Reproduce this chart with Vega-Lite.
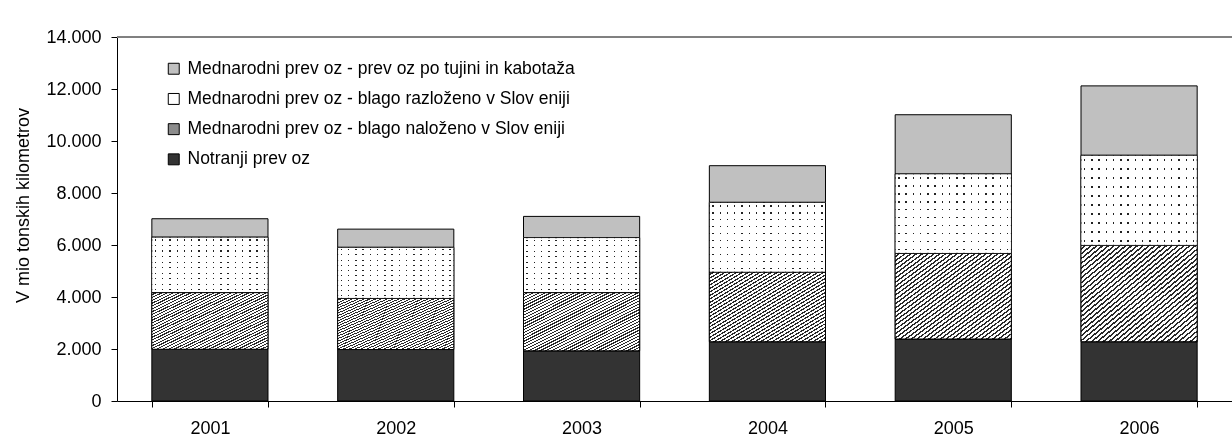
{
  "$schema": "https://vega.github.io/schema/vega-lite/v6.json",
  "autosize": {"type": "none"},
  "padding": {"left": 117, "top": 37, "right": 0, "bottom": 36},
  "width": 1115,
  "height": 364,
  "config": {
    "locale": {"number": {"decimal": ",", "thousands": ".", "grouping": [3], "currency": ["", " €"]}},
    "view": {"stroke": null},
    "font": "Liberation Sans"
  },
  "data": {
    "values": [
      {"year": "2001", "series": "Notranji prev oz", "rank": 1, "value": 1990},
      {"year": "2001", "series": "Mednarodni prev oz - blago naloženo v Slov eniji", "rank": 2, "value": 2180},
      {"year": "2001", "series": "Mednarodni prev oz - blago razloženo v Slov eniji", "rank": 3, "value": 2130},
      {"year": "2001", "series": "Mednarodni prev oz - prev oz po tujini in kabotaža", "rank": 4, "value": 710},
      {"year": "2002", "series": "Notranji prev oz", "rank": 1, "value": 1980},
      {"year": "2002", "series": "Mednarodni prev oz - blago naloženo v Slov eniji", "rank": 2, "value": 1970},
      {"year": "2002", "series": "Mednarodni prev oz - blago razloženo v Slov eniji", "rank": 3, "value": 1960},
      {"year": "2002", "series": "Mednarodni prev oz - prev oz po tujini in kabotaža", "rank": 4, "value": 700},
      {"year": "2003", "series": "Notranji prev oz", "rank": 1, "value": 1930},
      {"year": "2003", "series": "Mednarodni prev oz - blago naloženo v Slov eniji", "rank": 2, "value": 2240},
      {"year": "2003", "series": "Mednarodni prev oz - blago razloženo v Slov eniji", "rank": 3, "value": 2110},
      {"year": "2003", "series": "Mednarodni prev oz - prev oz po tujini in kabotaža", "rank": 4, "value": 820},
      {"year": "2004", "series": "Notranji prev oz", "rank": 1, "value": 2280},
      {"year": "2004", "series": "Mednarodni prev oz - blago naloženo v Slov eniji", "rank": 2, "value": 2680},
      {"year": "2004", "series": "Mednarodni prev oz - blago razloženo v Slov eniji", "rank": 3, "value": 2680},
      {"year": "2004", "series": "Mednarodni prev oz - prev oz po tujini in kabotaža", "rank": 4, "value": 1410},
      {"year": "2005", "series": "Notranji prev oz", "rank": 1, "value": 2385},
      {"year": "2005", "series": "Mednarodni prev oz - blago naloženo v Slov eniji", "rank": 2, "value": 3295},
      {"year": "2005", "series": "Mednarodni prev oz - blago razloženo v Slov eniji", "rank": 3, "value": 3050},
      {"year": "2005", "series": "Mednarodni prev oz - prev oz po tujini in kabotaža", "rank": 4, "value": 2280},
      {"year": "2006", "series": "Notranji prev oz", "rank": 1, "value": 2280},
      {"year": "2006", "series": "Mednarodni prev oz - blago naloženo v Slov eniji", "rank": 2, "value": 3710},
      {"year": "2006", "series": "Mednarodni prev oz - blago razloženo v Slov eniji", "rank": 3, "value": 3460},
      {"year": "2006", "series": "Mednarodni prev oz - prev oz po tujini in kabotaža", "rank": 4, "value": 2670}
    ]
  },
  "transform": [
    {"stack": "value", "groupby": ["year"], "sort": [{"field": "rank", "order": "ascending"}], "as": ["v0", "v1"]}
  ],
  "layer": [
    {
      "mark": {"type": "bar", "stroke": "#000000", "strokeWidth": 1},
      "encoding": {
        "x": {
          "field": "year", "type": "ordinal",
          "scale": {"paddingInner": 0.375, "paddingOuter": 0.1875},
          "axis": {"title": null, "labelAngle": 0, "tickBand": "extent", "domainColor": "#000000", "tickColor": "#000000", "tickSize": 6, "labelFontSize": 18, "labelColor": "#000000", "labelPadding": 12, "grid": false}
        },
        "y": {
          "field": "v0", "type": "quantitative",
          "scale": {"domain": [0, 14000]},
          "axis": {"title": "V mio tonskih kilometrov", "values": [0, 2000, 4000, 6000, 8000, 10000, 12000, 14000], "format": ",.0f", "labelFontSize": 18, "labelColor": "#000000", "titleFontSize": 18, "titleFontWeight": "normal", "titleColor": "#000000", "tickSize": 6, "labelPadding": 10, "domainColor": "#000000", "tickColor": "#000000", "grid": false, "titleX": -94, "titleY": 168, "titleBaseline": "middle", "titleAngle": 270}
        },
        "y2": {"field": "v1"},
        "color": {
          "field": "series", "type": "nominal",
          "scale": {
            "domain": ["Mednarodni prev oz - prev oz po tujini in kabotaža", "Mednarodni prev oz - blago razloženo v Slov eniji", "Mednarodni prev oz - blago naloženo v Slov eniji", "Notranji prev oz"],
            "range": ["#c0c0c0", "#ffffff", "#8c8c8c", "#333333"]
          },
          "legend": {"title": null, "orient": "none", "legendX": 48, "legendY": 23, "symbolType": "square", "symbolSize": 120, "symbolStrokeColor": "#000000", "symbolStrokeWidth": 1, "symbolOpacity": 1, "labelFontSize": 17.5, "labelColor": "#000000", "labelLimit": 700, "rowPadding": 11.2, "labelOffset": 5}
        }
      }
    },
    {
      "transform": [{"filter": {"field": "series", "equal": "Mednarodni prev oz - blago naloženo v Slov eniji"}}],
      "mark": {
        "type": "bar", "stroke": "#000000", "strokeWidth": 1,
        "fill": {
          "gradient": "linear", "x1": 0, "y1": 0, "x2": 1, "y2": 1,
          "stops": [
            {"offset": 0, "color": "#ffffff"}, {"offset": 0.015, "color": "#ffffff"}, {"offset": 0.015, "color": "#2a2a2a"}, {"offset": 0.025, "color": "#2a2a2a"},
            {"offset": 0.025, "color": "#ffffff"}, {"offset": 0.04, "color": "#ffffff"}, {"offset": 0.04, "color": "#2a2a2a"}, {"offset": 0.05, "color": "#2a2a2a"},
            {"offset": 0.05, "color": "#ffffff"}, {"offset": 0.065, "color": "#ffffff"}, {"offset": 0.065, "color": "#2a2a2a"}, {"offset": 0.075, "color": "#2a2a2a"},
            {"offset": 0.075, "color": "#ffffff"}, {"offset": 0.09, "color": "#ffffff"}, {"offset": 0.09, "color": "#2a2a2a"}, {"offset": 0.1, "color": "#2a2a2a"},
            {"offset": 0.1, "color": "#ffffff"}, {"offset": 0.115, "color": "#ffffff"}, {"offset": 0.115, "color": "#2a2a2a"}, {"offset": 0.125, "color": "#2a2a2a"},
            {"offset": 0.125, "color": "#ffffff"}, {"offset": 0.14, "color": "#ffffff"}, {"offset": 0.14, "color": "#2a2a2a"}, {"offset": 0.15, "color": "#2a2a2a"},
            {"offset": 0.15, "color": "#ffffff"}, {"offset": 0.165, "color": "#ffffff"}, {"offset": 0.165, "color": "#2a2a2a"}, {"offset": 0.175, "color": "#2a2a2a"},
            {"offset": 0.175, "color": "#ffffff"}, {"offset": 0.19, "color": "#ffffff"}, {"offset": 0.19, "color": "#2a2a2a"}, {"offset": 0.2, "color": "#2a2a2a"},
            {"offset": 0.2, "color": "#ffffff"}, {"offset": 0.215, "color": "#ffffff"}, {"offset": 0.215, "color": "#2a2a2a"}, {"offset": 0.225, "color": "#2a2a2a"},
            {"offset": 0.225, "color": "#ffffff"}, {"offset": 0.24, "color": "#ffffff"}, {"offset": 0.24, "color": "#2a2a2a"}, {"offset": 0.25, "color": "#2a2a2a"},
            {"offset": 0.25, "color": "#ffffff"}, {"offset": 0.265, "color": "#ffffff"}, {"offset": 0.265, "color": "#2a2a2a"}, {"offset": 0.275, "color": "#2a2a2a"},
            {"offset": 0.275, "color": "#ffffff"}, {"offset": 0.29, "color": "#ffffff"}, {"offset": 0.29, "color": "#2a2a2a"}, {"offset": 0.3, "color": "#2a2a2a"},
            {"offset": 0.3, "color": "#ffffff"}, {"offset": 0.315, "color": "#ffffff"}, {"offset": 0.315, "color": "#2a2a2a"}, {"offset": 0.325, "color": "#2a2a2a"},
            {"offset": 0.325, "color": "#ffffff"}, {"offset": 0.34, "color": "#ffffff"}, {"offset": 0.34, "color": "#2a2a2a"}, {"offset": 0.35, "color": "#2a2a2a"},
            {"offset": 0.35, "color": "#ffffff"}, {"offset": 0.365, "color": "#ffffff"}, {"offset": 0.365, "color": "#2a2a2a"}, {"offset": 0.375, "color": "#2a2a2a"},
            {"offset": 0.375, "color": "#ffffff"}, {"offset": 0.39, "color": "#ffffff"}, {"offset": 0.39, "color": "#2a2a2a"}, {"offset": 0.4, "color": "#2a2a2a"},
            {"offset": 0.4, "color": "#ffffff"}, {"offset": 0.415, "color": "#ffffff"}, {"offset": 0.415, "color": "#2a2a2a"}, {"offset": 0.425, "color": "#2a2a2a"},
            {"offset": 0.425, "color": "#ffffff"}, {"offset": 0.44, "color": "#ffffff"}, {"offset": 0.44, "color": "#2a2a2a"}, {"offset": 0.45, "color": "#2a2a2a"},
            {"offset": 0.45, "color": "#ffffff"}, {"offset": 0.465, "color": "#ffffff"}, {"offset": 0.465, "color": "#2a2a2a"}, {"offset": 0.475, "color": "#2a2a2a"},
            {"offset": 0.475, "color": "#ffffff"}, {"offset": 0.49, "color": "#ffffff"}, {"offset": 0.49, "color": "#2a2a2a"}, {"offset": 0.5, "color": "#2a2a2a"},
            {"offset": 0.5, "color": "#ffffff"}, {"offset": 0.515, "color": "#ffffff"}, {"offset": 0.515, "color": "#2a2a2a"}, {"offset": 0.525, "color": "#2a2a2a"},
            {"offset": 0.525, "color": "#ffffff"}, {"offset": 0.54, "color": "#ffffff"}, {"offset": 0.54, "color": "#2a2a2a"}, {"offset": 0.55, "color": "#2a2a2a"},
            {"offset": 0.55, "color": "#ffffff"}, {"offset": 0.565, "color": "#ffffff"}, {"offset": 0.565, "color": "#2a2a2a"}, {"offset": 0.575, "color": "#2a2a2a"},
            {"offset": 0.575, "color": "#ffffff"}, {"offset": 0.59, "color": "#ffffff"}, {"offset": 0.59, "color": "#2a2a2a"}, {"offset": 0.6, "color": "#2a2a2a"},
            {"offset": 0.6, "color": "#ffffff"}, {"offset": 0.615, "color": "#ffffff"}, {"offset": 0.615, "color": "#2a2a2a"}, {"offset": 0.625, "color": "#2a2a2a"},
            {"offset": 0.625, "color": "#ffffff"}, {"offset": 0.64, "color": "#ffffff"}, {"offset": 0.64, "color": "#2a2a2a"}, {"offset": 0.65, "color": "#2a2a2a"},
            {"offset": 0.65, "color": "#ffffff"}, {"offset": 0.665, "color": "#ffffff"}, {"offset": 0.665, "color": "#2a2a2a"}, {"offset": 0.675, "color": "#2a2a2a"},
            {"offset": 0.675, "color": "#ffffff"}, {"offset": 0.69, "color": "#ffffff"}, {"offset": 0.69, "color": "#2a2a2a"}, {"offset": 0.7, "color": "#2a2a2a"},
            {"offset": 0.7, "color": "#ffffff"}, {"offset": 0.715, "color": "#ffffff"}, {"offset": 0.715, "color": "#2a2a2a"}, {"offset": 0.725, "color": "#2a2a2a"},
            {"offset": 0.725, "color": "#ffffff"}, {"offset": 0.74, "color": "#ffffff"}, {"offset": 0.74, "color": "#2a2a2a"}, {"offset": 0.75, "color": "#2a2a2a"},
            {"offset": 0.75, "color": "#ffffff"}, {"offset": 0.765, "color": "#ffffff"}, {"offset": 0.765, "color": "#2a2a2a"}, {"offset": 0.775, "color": "#2a2a2a"},
            {"offset": 0.775, "color": "#ffffff"}, {"offset": 0.79, "color": "#ffffff"}, {"offset": 0.79, "color": "#2a2a2a"}, {"offset": 0.8, "color": "#2a2a2a"},
            {"offset": 0.8, "color": "#ffffff"}, {"offset": 0.815, "color": "#ffffff"}, {"offset": 0.815, "color": "#2a2a2a"}, {"offset": 0.825, "color": "#2a2a2a"},
            {"offset": 0.825, "color": "#ffffff"}, {"offset": 0.84, "color": "#ffffff"}, {"offset": 0.84, "color": "#2a2a2a"}, {"offset": 0.85, "color": "#2a2a2a"},
            {"offset": 0.85, "color": "#ffffff"}, {"offset": 0.865, "color": "#ffffff"}, {"offset": 0.865, "color": "#2a2a2a"}, {"offset": 0.875, "color": "#2a2a2a"},
            {"offset": 0.875, "color": "#ffffff"}, {"offset": 0.89, "color": "#ffffff"}, {"offset": 0.89, "color": "#2a2a2a"}, {"offset": 0.9, "color": "#2a2a2a"},
            {"offset": 0.9, "color": "#ffffff"}, {"offset": 0.915, "color": "#ffffff"}, {"offset": 0.915, "color": "#2a2a2a"}, {"offset": 0.925, "color": "#2a2a2a"},
            {"offset": 0.925, "color": "#ffffff"}, {"offset": 0.94, "color": "#ffffff"}, {"offset": 0.94, "color": "#2a2a2a"}, {"offset": 0.95, "color": "#2a2a2a"},
            {"offset": 0.95, "color": "#ffffff"}, {"offset": 0.965, "color": "#ffffff"}, {"offset": 0.965, "color": "#2a2a2a"}, {"offset": 0.975, "color": "#2a2a2a"},
            {"offset": 0.975, "color": "#ffffff"}, {"offset": 0.99, "color": "#ffffff"}, {"offset": 0.99, "color": "#2a2a2a"}, {"offset": 1, "color": "#2a2a2a"}
          ]
        }
      },
      "encoding": {
        "x": {"field": "year", "type": "ordinal"},
        "y": {"field": "v0", "type": "quantitative"},
        "y2": {"field": "v1"}
      }
    },
    {
      "transform": [{"filter": {"field": "series", "equal": "Mednarodni prev oz - blago razloženo v Slov eniji"}}],
      "mark": {
        "type": "bar", "stroke": "#000000", "strokeWidth": 1,
        "fill": {
          "gradient": "linear", "x1": 0, "y1": 0, "x2": 1, "y2": 0,
          "stops": [
            {"offset": 0, "color": "#ffffff"},
            {"offset": 0.025, "color": "#ffffff"}, {"offset": 0.025, "color": "#222222"}, {"offset": 0.0375, "color": "#222222"}, {"offset": 0.0375, "color": "#ffffff"},
            {"offset": 0.0875, "color": "#ffffff"}, {"offset": 0.0875, "color": "#222222"}, {"offset": 0.1, "color": "#222222"}, {"offset": 0.1, "color": "#ffffff"},
            {"offset": 0.15, "color": "#ffffff"}, {"offset": 0.15, "color": "#222222"}, {"offset": 0.1625, "color": "#222222"}, {"offset": 0.1625, "color": "#ffffff"},
            {"offset": 0.2125, "color": "#ffffff"}, {"offset": 0.2125, "color": "#222222"}, {"offset": 0.225, "color": "#222222"}, {"offset": 0.225, "color": "#ffffff"},
            {"offset": 0.275, "color": "#ffffff"}, {"offset": 0.275, "color": "#222222"}, {"offset": 0.2875, "color": "#222222"}, {"offset": 0.2875, "color": "#ffffff"},
            {"offset": 0.3375, "color": "#ffffff"}, {"offset": 0.3375, "color": "#222222"}, {"offset": 0.35, "color": "#222222"}, {"offset": 0.35, "color": "#ffffff"},
            {"offset": 0.4, "color": "#ffffff"}, {"offset": 0.4, "color": "#222222"}, {"offset": 0.4125, "color": "#222222"}, {"offset": 0.4125, "color": "#ffffff"},
            {"offset": 0.4625, "color": "#ffffff"}, {"offset": 0.4625, "color": "#222222"}, {"offset": 0.475, "color": "#222222"}, {"offset": 0.475, "color": "#ffffff"},
            {"offset": 0.525, "color": "#ffffff"}, {"offset": 0.525, "color": "#222222"}, {"offset": 0.5375, "color": "#222222"}, {"offset": 0.5375, "color": "#ffffff"},
            {"offset": 0.5875, "color": "#ffffff"}, {"offset": 0.5875, "color": "#222222"}, {"offset": 0.6, "color": "#222222"}, {"offset": 0.6, "color": "#ffffff"},
            {"offset": 0.65, "color": "#ffffff"}, {"offset": 0.65, "color": "#222222"}, {"offset": 0.6625, "color": "#222222"}, {"offset": 0.6625, "color": "#ffffff"},
            {"offset": 0.7125, "color": "#ffffff"}, {"offset": 0.7125, "color": "#222222"}, {"offset": 0.725, "color": "#222222"}, {"offset": 0.725, "color": "#ffffff"},
            {"offset": 0.775, "color": "#ffffff"}, {"offset": 0.775, "color": "#222222"}, {"offset": 0.7875, "color": "#222222"}, {"offset": 0.7875, "color": "#ffffff"},
            {"offset": 0.8375, "color": "#ffffff"}, {"offset": 0.8375, "color": "#222222"}, {"offset": 0.85, "color": "#222222"}, {"offset": 0.85, "color": "#ffffff"},
            {"offset": 0.9, "color": "#ffffff"}, {"offset": 0.9, "color": "#222222"}, {"offset": 0.9125, "color": "#222222"}, {"offset": 0.9125, "color": "#ffffff"},
            {"offset": 0.9625, "color": "#ffffff"}, {"offset": 0.9625, "color": "#222222"}, {"offset": 0.975, "color": "#222222"}, {"offset": 0.975, "color": "#ffffff"},
            {"offset": 1, "color": "#ffffff"}
          ]
        }
      },
      "encoding": {
        "x": {"field": "year", "type": "ordinal"},
        "y": {"field": "v0", "type": "quantitative"},
        "y2": {"field": "v1"}
      }
    },
    {
      "transform": [{"filter": {"field": "series", "equal": "Mednarodni prev oz - blago razloženo v Slov eniji"}}],
      "mark": {
        "type": "bar", "stroke": "#000000", "strokeWidth": 1, "blend": "screen",
        "fill": {
          "gradient": "linear", "x1": 0, "y1": 0, "x2": 0, "y2": 1,
          "stops": [
            {"offset": 0, "color": "#ffffff"},
            {"offset": 0.04, "color": "#ffffff"}, {"offset": 0.04, "color": "#000000"}, {"offset": 0.06, "color": "#000000"}, {"offset": 0.06, "color": "#ffffff"},
            {"offset": 0.14, "color": "#ffffff"}, {"offset": 0.14, "color": "#000000"}, {"offset": 0.16, "color": "#000000"}, {"offset": 0.16, "color": "#ffffff"},
            {"offset": 0.24, "color": "#ffffff"}, {"offset": 0.24, "color": "#000000"}, {"offset": 0.26, "color": "#000000"}, {"offset": 0.26, "color": "#ffffff"},
            {"offset": 0.34, "color": "#ffffff"}, {"offset": 0.34, "color": "#000000"}, {"offset": 0.36, "color": "#000000"}, {"offset": 0.36, "color": "#ffffff"},
            {"offset": 0.44, "color": "#ffffff"}, {"offset": 0.44, "color": "#000000"}, {"offset": 0.46, "color": "#000000"}, {"offset": 0.46, "color": "#ffffff"},
            {"offset": 0.54, "color": "#ffffff"}, {"offset": 0.54, "color": "#000000"}, {"offset": 0.56, "color": "#000000"}, {"offset": 0.56, "color": "#ffffff"},
            {"offset": 0.64, "color": "#ffffff"}, {"offset": 0.64, "color": "#000000"}, {"offset": 0.66, "color": "#000000"}, {"offset": 0.66, "color": "#ffffff"},
            {"offset": 0.74, "color": "#ffffff"}, {"offset": 0.74, "color": "#000000"}, {"offset": 0.76, "color": "#000000"}, {"offset": 0.76, "color": "#ffffff"},
            {"offset": 0.84, "color": "#ffffff"}, {"offset": 0.84, "color": "#000000"}, {"offset": 0.86, "color": "#000000"}, {"offset": 0.86, "color": "#ffffff"},
            {"offset": 0.94, "color": "#ffffff"}, {"offset": 0.94, "color": "#000000"}, {"offset": 0.96, "color": "#000000"}, {"offset": 0.96, "color": "#ffffff"},
            {"offset": 1, "color": "#ffffff"}
          ]
        }
      },
      "encoding": {
        "x": {"field": "year", "type": "ordinal"},
        "y": {"field": "v0", "type": "quantitative"},
        "y2": {"field": "v1"}
      }
    },
    {
      "mark": {"type": "rule", "color": "#808080", "strokeWidth": 1},
      "encoding": {"y": {"datum": 14000}}
    }
  ]
}
